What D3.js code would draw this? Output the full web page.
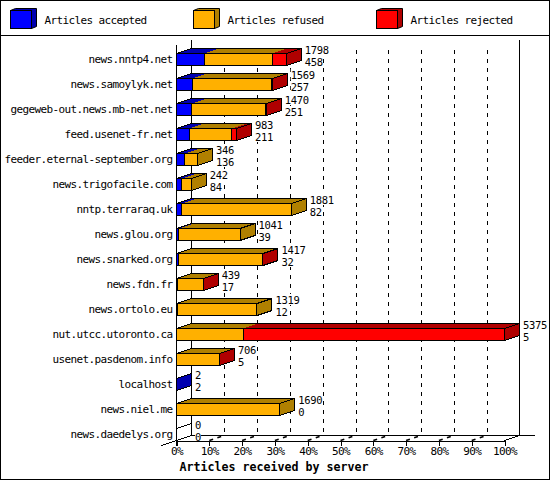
<!DOCTYPE html>
<html>
<head>
<meta charset="utf-8">
<script src="https://cdnjs.cloudflare.com/ajax/libs/d3/7.8.5/d3.min.js"></script>
<style>
  html, body { margin: 0; padding: 0; background: #fff; }
  svg { display: block; }
  text { font-family: "DejaVu Sans Mono", monospace; font-size: 11px; letter-spacing: -0.62px; fill: #000; }
  .axis text { font-size: 11px; font-family: "DejaVu Sans Mono", monospace; }
  .value { font-size: 10.5px; letter-spacing: -0.32px; }
  .title { font-size: 11.65px; font-weight: bold; letter-spacing: 0; }
  .axis path, .axis line { stroke: #000; shape-rendering: crispEdges; }
</style>
</head>
<body>
<svg></svg>
<script>
let svgWidth = 550
let svgHeight = 480

let servers = ['news.nntp4.net', 'news.samoylyk.net', 'gegeweb-out.news.mb-net.net', 'feed.usenet-fr.net',
  'feeder.eternal-september.org', 'news.trigofacile.com', 'nntp.terraraq.uk', 'news.glou.org',
  'news.snarked.org', 'news.fdn.fr', 'news.ortolo.eu', 'nut.utcc.utoronto.ca',
  'usenet.pasdenom.info', 'localhost', 'news.niel.me', 'news.daedelys.org']
let accepted = [458, 257, 251, 211, 136, 84, 82, 39, 32, 17, 12, 5, 5, 2, 0, 0]
let refused = [1112, 1300, 1213, 692, 210, 158, 1799, 1002, 1380, 418, 1307, 1090, 698, 0, 1690, 0]
let rejected = [228, 12, 6, 80, 0, 0, 0, 0, 5, 4, 0, 4280, 3, 0, 0, 0]
let totals = [1798, 1569, 1470, 983, 346, 242, 1881, 1041, 1417, 439, 1319, 5375, 706, 2, 1690, 0]

let percentTicks = [0, 10, 20, 30, 40, 50, 60, 70, 80, 90, 100]
let legendLabels = ['Articles accepted', 'Articles refused', 'Articles rejected']
let frontColors = ['#0000ff', '#ffb000', '#ff0000']
let backColors = ['#0000b0', '#b08000', '#b00000']

// depth of the fake 3d
let dx = 15
let dy = 5

let plotLeft = 176.5
let plotRight = 504.5
let plotFloor = 440.5

let svg = d3.select('svg').attr('width', svgWidth).attr('height', svgHeight)

let xScale = d3.scaleLinear().domain([0, d3.max(totals)]).range([plotLeft, plotRight])
let percentScale = d3.scaleLinear().domain([0, 100]).range([plotLeft, plotRight])
let yScale = d3.scaleBand().domain(servers).range([47, 447]).paddingInner(0.52).paddingOuter(0.26)

function poly(points) {
  return points.map(p => p.join(',')).join(' ')
}

function drawFrame() {
  svg.append('rect').attr('x', 0.5).attr('y', 0.5)
    .attr('width', svgWidth - 1).attr('height', svgHeight - 1)
    .attr('fill', 'none').attr('stroke', '#000').attr('shape-rendering', 'crispEdges')
  svg.append('line').attr('x1', 0).attr('x2', svgWidth).attr('y1', 35.5).attr('y2', 35.5)
    .attr('stroke', '#000').attr('shape-rendering', 'crispEdges')
}

function drawLegend() {
  legendLabels.forEach(function(label, i) {
    let g = svg.append('g').attr('transform', 'translate(' + (10.5 + 183 * i) + ',10.5)')
    g.append('polygon').attr('points', poly([[0, 0], [5, -2], [26, -2], [26, 16], [21, 18], [21, 0]]))
      .attr('fill', backColors[i]).attr('stroke', '#000')
    g.append('rect').attr('width', 21).attr('height', 18)
      .attr('fill', frontColors[i]).attr('stroke', '#000').attr('shape-rendering', 'crispEdges')
    g.append('text').attr('x', 34).attr('y', 13.5).text(label)
  })
}

function drawWalls() {
  let wall = svg.append('g').attr('stroke', '#000').attr('fill', 'none')

  wall.selectAll('.grid')
    .data(percentTicks.slice(1, -1))
    .enter().append('line')
    .attr('class', 'grid')
    .attr('x1', d => Math.round(percentScale(d) + dx) + 0.5)
    .attr('x2', d => Math.round(percentScale(d) + dx) + 0.5)
    .attr('y1', 50)
    .attr('y2', plotFloor - dy)
    .attr('stroke-dasharray', '4 5')
    .attr('shape-rendering', 'crispEdges')

  // short dashed lines across the floor
  wall.selectAll('.floor')
    .data(percentTicks.slice(1, -1))
    .enter().append('line')
    .attr('class', 'floor')
    .attr('x1', d => percentScale(d))
    .attr('x2', d => percentScale(d) + dx)
    .attr('y1', plotFloor)
    .attr('y2', plotFloor - dy)
    .attr('stroke-width', 1.6)
    .attr('stroke-dasharray', '4 4.5')

  wall.append('line').attr('x1', plotLeft + dx).attr('x2', plotLeft + dx).attr('y1', 40).attr('y2', plotFloor - dy)
    .attr('shape-rendering', 'crispEdges')
  wall.append('line').attr('x1', plotRight + dx).attr('x2', plotRight + dx).attr('y1', 40).attr('y2', plotFloor - dy)
    .attr('shape-rendering', 'crispEdges')
  wall.append('line').attr('x1', plotLeft + dx).attr('x2', 535).attr('y1', plotFloor - dy).attr('y2', plotFloor - dy)
    .attr('shape-rendering', 'crispEdges')
  wall.append('line').attr('x1', plotLeft - dx).attr('x2', plotLeft + dx).attr('y1', plotFloor + dy).attr('y2', plotFloor - dy)
    .attr('shape-rendering', 'crispEdges')
  wall.append('line').attr('x1', plotRight).attr('x2', plotRight + dx).attr('y1', plotFloor).attr('y2', plotFloor - dy)
    .attr('shape-rendering', 'crispEdges')
}

function drawBar(g, i) {
  let top = yScale(servers[i])
  let bottom = top + yScale.bandwidth()
  let values = [accepted[i], refused[i], rejected[i]]
  let start = 0
  let last = -1

  values.forEach(function(v, k) {
    if (v === 0) return
    let x0 = xScale(start)
    let x1 = xScale(start + v)
    g.append('polygon')
      .attr('points', poly([[x0, top], [x0 + dx, top - dy], [x1 + dx, top - dy], [x1, top]]))
      .attr('fill', backColors[k])
      .attr('shape-rendering', 'crispEdges')
    g.append('rect')
      .attr('x', x0).attr('y', top)
      .attr('width', x1 - x0).attr('height', bottom - top)
      .attr('fill', frontColors[k]).attr('stroke', '#000')
      .attr('shape-rendering', 'crispEdges')
    start += v
    last = k
  })

  let end = xScale(start)
  g.append('polygon')
    .attr('points', poly([[end, top], [end + dx, top - dy], [end + dx, bottom - dy], [end, bottom]]))
    .attr('fill', last < 0 ? 'none' : backColors[last])
    .attr('stroke', '#000')
    .attr('shape-rendering', 'crispEdges')
  g.append('polyline')
    .attr('points', poly([[plotLeft, top], [plotLeft + dx, top - dy], [end + dx, top - dy]]))
    .attr('fill', 'none').attr('stroke', '#000')
    .attr('shape-rendering', 'crispEdges')

  let labelX = end + dx + 3.5
  drawValue(g, labelX, top - 9.5, totals[i])
  drawValue(g, labelX, top + 2.5, accepted[i])
}

// the value labels sit on a white box that hides the grid behind them
function drawValue(g, x, y, value) {
  g.append('rect')
    .attr('x', x).attr('y', y)
    .attr('width', String(value).length * 6).attr('height', 11)
    .attr('fill', '#fff')
  g.append('text').attr('class', 'value').attr('x', x).attr('y', y + 9.5).text(value)
}

function drawAxes() {
  let xAxis = d3.axisBottom(percentScale).tickValues(percentTicks)
    .tickFormat(d => d + '%').tickSize(5).tickSizeOuter(0).tickPadding(2)
  svg.append('g').attr('class', 'axis').attr('transform', 'translate(0,' + plotFloor + ')').call(xAxis)
    .selectAll('text').attr('fill', '#000')

  let yAxis = d3.axisLeft(yScale).tickSize(0).tickPadding(4)
  let y = svg.append('g').attr('class', 'axis').attr('transform', 'translate(' + plotLeft + ',0)').call(yAxis)
  y.select('.domain').remove()

  svg.append('line').attr('x1', plotLeft).attr('x2', plotLeft).attr('y1', 45).attr('y2', plotFloor + dy)
    .attr('stroke', '#000').attr('shape-rendering', 'crispEdges')

  svg.append('text').attr('class', 'title')
    .attr('x', 274).attr('y', 471).attr('text-anchor', 'middle')
    .text('Articles received by server')
}

drawFrame()
drawLegend()
drawWalls()
let bars = svg.append('g')
servers.forEach(function(d, i) {
  drawBar(bars.append('g'), i)
})
drawAxes()
</script>
</body>
</html>
